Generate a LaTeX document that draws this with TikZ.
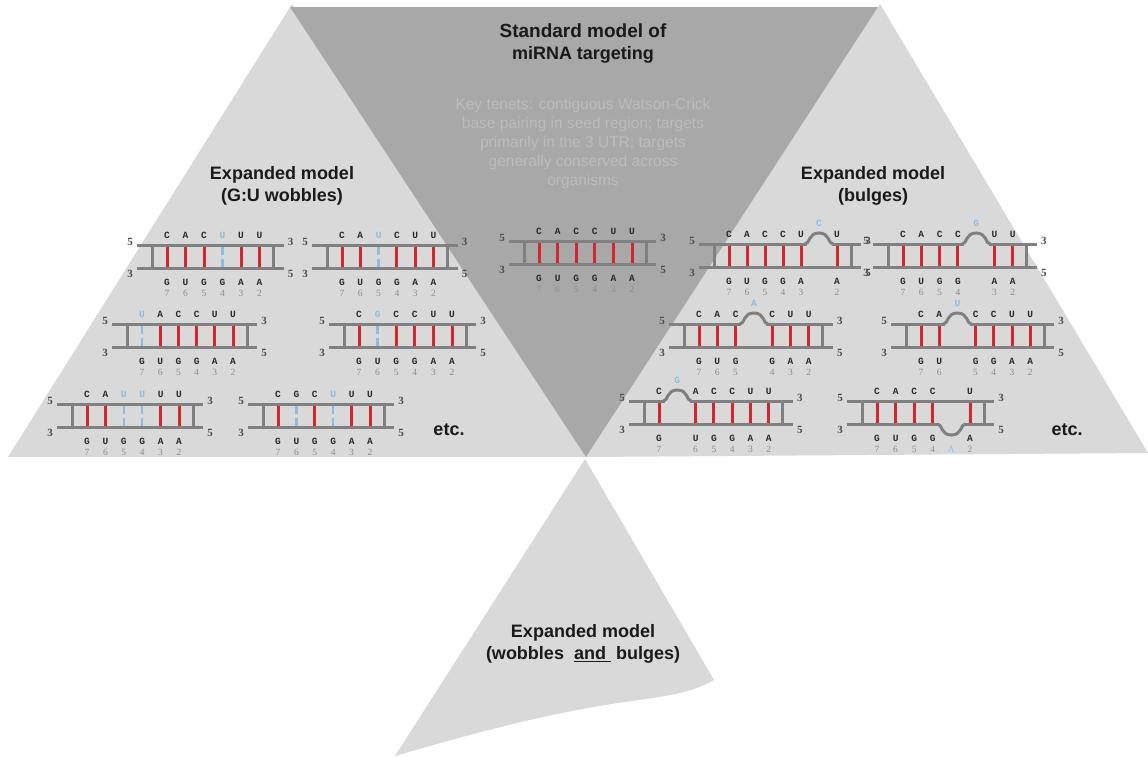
\documentclass[tikz,border=0pt]{standalone}
\usepackage{fontspec}
\setmainfont{Liberation Sans}
\newfontfamily\nucfont{Liberation Mono}
\newfontfamily\numfont{Liberation Serif}
\definecolor{lightbg}{HTML}{D9D9D9}
\definecolor{darkbg}{HTML}{A8A8A8}
\definecolor{strandc}{HTML}{808080}
\definecolor{pairred}{HTML}{D7262B}
\definecolor{wobblue}{HTML}{8CBCE0}
\definecolor{nucdark}{HTML}{2A2A2A}
\definecolor{numgray}{HTML}{8C8C8C}
\definecolor{tenet}{HTML}{BCBCBC}
\definecolor{titlec}{HTML}{1A1A1A}
\tikzset{
  strand/.style={draw=strandc, line width=3pt},
  redbar/.style={draw=pairred, line width=3pt},
  wobbar/.style={draw=wobblue, line width=2.5pt, dash pattern=on 8pt off 4pt},
  eraser/.style={draw=lightbg, line width=4.5pt},
  nuc/.style={inner sep=0pt, font=\nucfont\bfseries\fontsize{9.5}{10}\selectfont, text=nucdark},
  numlab/.style={inner sep=0pt, font=\numfont\fontsize{9.5}{10}\selectfont, text=numgray},
  endlab/.style={inner sep=0pt, font=\numfont\bfseries\fontsize{11}{11}\selectfont, text=black!70},
  title/.style={font=\bfseries\fontsize{18}{22}\selectfont, align=center, text=titlec, inner sep=0pt},
  tenets/.style={font=\fontsize{15.5}{19}\selectfont, align=center, text=tenet, inner sep=0pt},
}
% #1 first slot x, #2 top strand y, #3 slot spacing, #4 number of slots, #5 slots
\newcommand\duplex[5]{%
  \pgfmathsetmacro\xl{#1-30}%
  \pgfmathsetmacro\xr{#1+(#4-1)*#3+24}%
  \pgfmathsetmacro\vl{#1-15}%
  \pgfmathsetmacro\vr{#1+(#4-1)*#3+14}%
  \draw[strand] (\xl,#2) -- (\xr,#2);
  \draw[strand] (\xl,#2+23) -- (\xr,#2+23);
  \draw[strand] (\vl,#2) -- (\vl,#2+23);
  \draw[strand] (\vr,#2) -- (\vr,#2+23);
  \node[endlab] at (\xl-7,#2-3) {5};
  \node[endlab] at (\xl-7,#2+29) {3};
  \node[endlab] at (\xr+7,#2-3) {3};
  \node[endlab] at (\xr+7,#2+29) {5};
  \foreach \tl/\tc/\p/\bl/\nm [count=\i from 0] in {#5} {
    \pgfmathsetmacro\cx{#1+\i*#3}
    \if\p r\draw[redbar] (\cx,#2+1.5) -- (\cx,#2+21.5);\fi
    \if\p w\draw[wobbar] (\cx,#2+1.5) -- (\cx,#2+21.5);\fi
    \if\p u
      \draw[eraser] (\cx-12.5,#2) -- (\cx+12.5,#2);
      \draw[strand] (\cx-14,#2) .. controls (\cx-9,#2) and (\cx-11,#2-11) .. (\cx,#2-11)
                    .. controls (\cx+11,#2-11) and (\cx+9,#2) .. (\cx+14,#2);
      \node[nuc, text=wobblue] at (\cx,#2-21) {\tl};
    \else
      \node[nuc] at (\cx,#2-10) {\if\tc b\color{wobblue}\fi\tl};
    \fi
    \if\p d
      \draw[eraser] (\cx-12.5,#2+23) -- (\cx+12.5,#2+23);
      \draw[strand] (\cx-14,#2+23) .. controls (\cx-9,#2+23) and (\cx-11,#2+34) .. (\cx,#2+34)
                    .. controls (\cx+11,#2+34) and (\cx+9,#2+23) .. (\cx+14,#2+23);
    \fi
    \node[nuc] at (\cx,#2+37) {\bl};
    \node[numlab] at (\cx,#2+48) {\if\p d\color{wobblue}\fi\nm};
  }%
}
\begin{document}
\begin{tikzpicture}[x=1pt, y=-1pt]
\useasboundingbox (0,0) rectangle (1148,756);
\fill[white] (0,0) rectangle (1148,756);
% background shapes
\fill[lightbg] (292,4) -- (8,457) -- (586,457) -- cycle;
\fill[lightbg] (880,4) -- (1148,453) -- (586,457) -- cycle;
\fill[darkbg] (290,7) -- (878,7) -- (586,457) -- cycle;
\fill[lightbg] (585,459) -- (714,680)
   .. controls (690,694) and (660,697) .. (625,702)
   .. controls (540,714) and (450,740) .. (395,756) -- cycle;
% titles
\node[title] (std) at (583,43.5) {\fontsize{19}{23}\selectfont Standard model of\\ miRNA targeting};
\node[tenets] (ten) at (583,143) {Key tenets: contiguous Watson-Crick\\ base pairing in seed region; targets\\ primarily in the 3 UTR; targets\\ generally conserved across\\ organisms};
\node[title] (wob) at (282,186) {Expanded model\\ (G:U wobbles)};
\node[title] (bul) at (873,186) {Expanded model\\ (bulges)};
\node[title] (both) at (583,644) {Expanded model\\ (wobbles\ \ \underline{and\ }\ bulges)};
\node[title] (etc1) at (449,430) {etc.};
\node[title] (etc2) at (1067,430) {etc.};
% standard duplex
\duplex{539}{241}{18.6}{6}{C/k/r/G/7, A/k/r/U/6, C/k/r/G/5, C/k/r/G/4, U/k/r/A/3, U/k/r/A/2}
% wobble duplexes
\duplex{167}{245}{18.5}{6}{C/k/r/G/7, A/k/r/U/6, C/k/r/G/5, U/b/w/G/4, U/k/r/A/3, U/k/r/A/2}
\duplex{342}{245}{18.3}{6}{C/k/r/G/7, A/k/r/U/6, U/b/w/G/5, C/k/r/G/4, U/k/r/A/3, U/k/r/A/2}
\duplex{142}{324}{18.2}{6}{U/b/w/G/7, A/k/r/U/6, C/k/r/G/5, C/k/r/G/4, U/k/r/A/3, U/k/r/A/2}
\duplex{359}{324}{18.6}{6}{C/k/r/G/7, G/b/w/U/6, C/k/r/G/5, C/k/r/G/4, U/k/r/A/3, U/k/r/A/2}
\duplex{87}{404}{18.4}{6}{C/k/r/G/7, A/k/r/U/6, U/b/w/G/5, U/b/w/G/4, U/k/r/A/3, U/k/r/A/2}
\duplex{278}{404}{18.4}{6}{C/k/r/G/7, G/k/w/U/6, C/k/r/G/5, U/b/w/G/4, U/k/r/A/3, U/k/r/A/2}
% bulge duplexes
\duplex{729}{244}{18}{7}{C/k/r/G/7, A/k/r/U/6, C/k/r/G/5, C/k/r/G/4, U/k/r/A/3, C/b/u/\empty/\empty, U/k/r/A/2}
\duplex{903}{244}{18.3}{7}{C/k/r/G/7, A/k/r/U/6, C/k/r/G/5, C/k/r/G/4, G/b/u/\empty/\empty, U/k/r/A/3, U/k/r/A/2}
\duplex{699}{324}{18.3}{7}{C/k/r/G/7, A/k/r/U/6, C/k/r/G/5, A/b/u/\empty/\empty, C/k/r/G/4, U/k/r/A/3, U/k/r/A/2}
\duplex{921}{324}{18.2}{7}{C/k/r/G/7, A/k/r/U/6, U/b/u/\empty/\empty, C/k/r/G/5, C/k/r/G/4, U/k/r/A/3, U/k/r/A/2}
\duplex{659}{401}{18.3}{7}{C/k/r/G/7, G/b/u/\empty/\empty, A/k/r/U/6, C/k/r/G/5, C/k/r/G/4, U/k/r/A/3, U/k/r/A/2}
\duplex{877}{401}{18.6}{6}{C/k/r/G/7, A/k/r/U/6, C/k/r/G/5, C/k/r/G/4, \empty/k/d/\empty/A, U/k/r/A/2}
\end{tikzpicture}
\end{document}
